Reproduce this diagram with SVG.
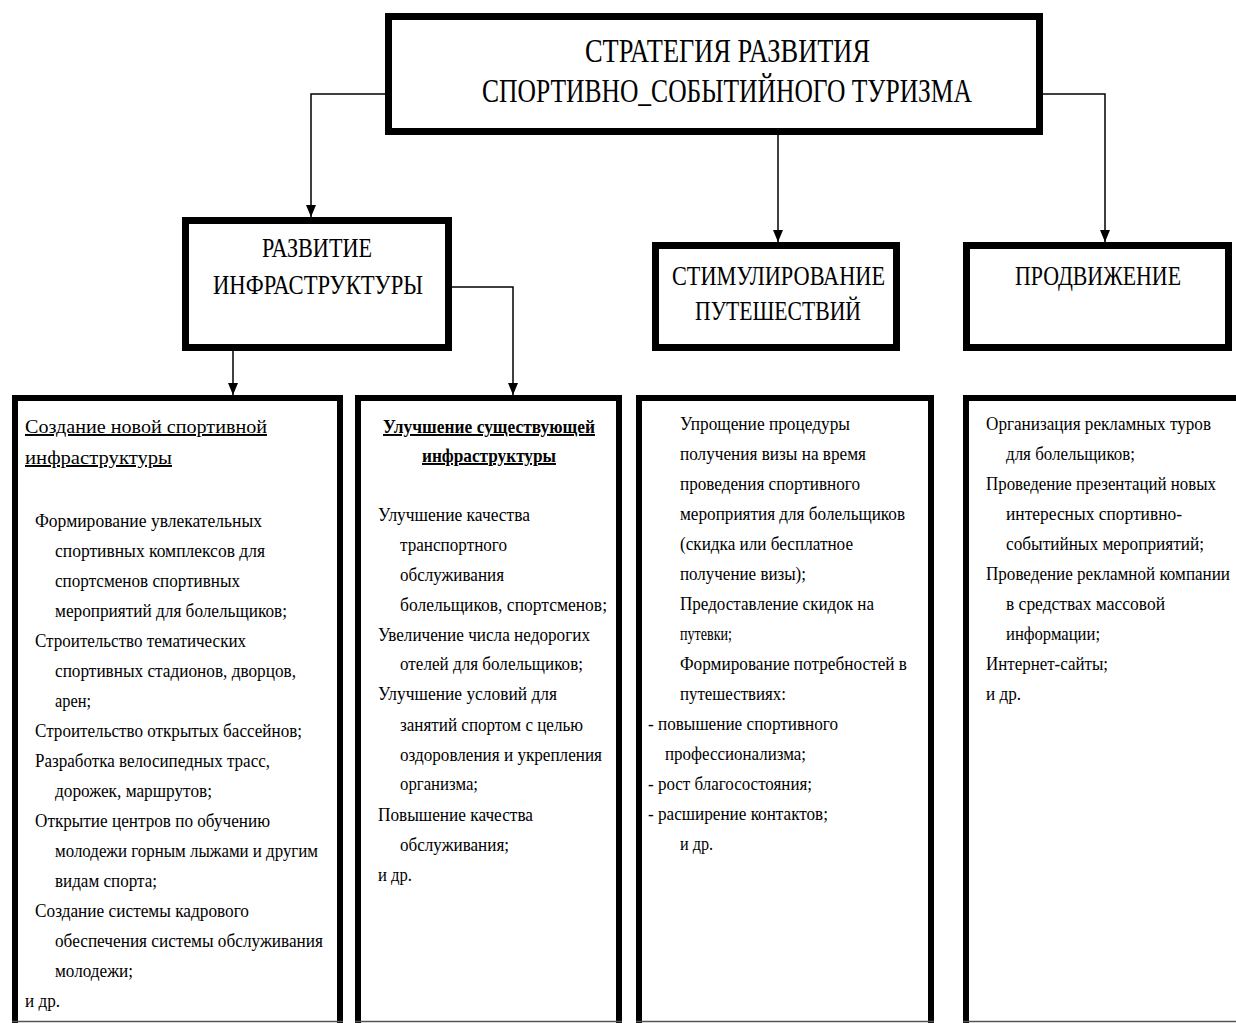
<svg xmlns="http://www.w3.org/2000/svg" width="1236" height="1023" viewBox="0 0 1236 1023">
<defs>
<marker id="arr" viewBox="0 0 12 10" markerUnits="userSpaceOnUse" markerWidth="12" markerHeight="10" refX="12" refY="5" orient="auto">
<path d="M0,0 L12,5 L0,10 z" fill="#000"/>
</marker>
<style>
.box{fill:#fff;stroke:#000;stroke-width:7}
.lbox{fill:#fff;stroke:#000;stroke-width:6}
.edge{fill:none;stroke:#000;stroke-width:1.5;marker-end:url(#arr)}
.base{stroke:#555;stroke-width:1.5}
text{font-family:"Liberation Serif","Times New Roman",serif;fill:#000}
.h1{font-size:33px}
.h2{font-size:28px}
.t{font-size:19.5px}
.u{text-decoration:underline}
.b{font-weight:bold}
</style>
</defs>
<rect width="1236" height="1023" fill="#fff"/>

<g id="connectors">
<path class="edge" d="M385,94 H311 V217"/>
<path class="edge" d="M778,135 V242"/>
<path class="edge" d="M1043,94 H1105 V242"/>
<path class="edge" d="M233,351 V395"/>
<path class="edge" d="M452,287 H513 V395"/>
</g>

<g id="strategy">
<rect class="box" x="388.5" y="16.5" width="651" height="115"/>
<text class="h1" x="585" y="62" textLength="285" lengthAdjust="spacingAndGlyphs">СТРАТЕГИЯ РАЗВИТИЯ</text>
<text class="h1" x="482" y="102" textLength="490" lengthAdjust="spacingAndGlyphs">СПОРТИВНО_СОБЫТИЙНОГО ТУРИЗМА</text>
</g>

<g id="infra">
<rect class="box" x="185.5" y="220.5" width="263" height="127"/>
<text class="h2" x="262" y="257" textLength="110" lengthAdjust="spacingAndGlyphs">РАЗВИТИЕ</text>
<text class="h2" x="213" y="294" textLength="210" lengthAdjust="spacingAndGlyphs">ИНФРАСТРУКТУРЫ</text>
</g>

<g id="stimul">
<rect class="box" x="655.5" y="245.5" width="241" height="102"/>
<text class="h2" x="672" y="285" textLength="213" lengthAdjust="spacingAndGlyphs">СТИМУЛИРОВАНИЕ</text>
<text class="h2" x="695" y="320" textLength="166" lengthAdjust="spacingAndGlyphs">ПУТЕШЕСТВИЙ</text>
</g>

<g id="promo">
<rect class="box" x="966.5" y="245.5" width="262" height="102"/>
<text class="h2" x="1015" y="285" textLength="166" lengthAdjust="spacingAndGlyphs">ПРОДВИЖЕНИЕ</text>
</g>

<g id="new-infra">
<rect class="lbox" x="15" y="398" width="325" height="640"/>
<line class="base" x1="12" y1="1021.5" x2="343" y2="1021.5"/>
<text class="t u" x="25" y="433" textLength="242" lengthAdjust="spacingAndGlyphs">Создание новой спортивной</text>
<text class="t u" x="25" y="464" textLength="147" lengthAdjust="spacingAndGlyphs">инфраструктуры</text>
<text class="t" x="35" y="527" textLength="227" lengthAdjust="spacingAndGlyphs">Формирование  увлекательных</text>
<text class="t" x="55" y="557" textLength="210" lengthAdjust="spacingAndGlyphs">спортивных комплексов для</text>
<text class="t" x="55" y="587" textLength="185" lengthAdjust="spacingAndGlyphs">спортсменов спортивных</text>
<text class="t" x="55" y="617" textLength="232" lengthAdjust="spacingAndGlyphs">мероприятий для болельщиков;</text>
<text class="t" x="35" y="647" textLength="211" lengthAdjust="spacingAndGlyphs">Строительство тематических</text>
<text class="t" x="55" y="677" textLength="241" lengthAdjust="spacingAndGlyphs">спортивных стадионов, дворцов,</text>
<text class="t" x="55" y="707" textLength="36" lengthAdjust="spacingAndGlyphs">арен;</text>
<text class="t" x="35" y="737" textLength="267" lengthAdjust="spacingAndGlyphs">Строительство открытых бассейнов;</text>
<text class="t" x="35" y="767" textLength="235" lengthAdjust="spacingAndGlyphs">Разработка велосипедных трасс,</text>
<text class="t" x="55" y="797" textLength="157" lengthAdjust="spacingAndGlyphs">дорожек, маршрутов;</text>
<text class="t" x="35" y="827" textLength="235" lengthAdjust="spacingAndGlyphs">Открытие центров по обучению</text>
<text class="t" x="55" y="857" textLength="263" lengthAdjust="spacingAndGlyphs">молодежи горным лыжами и другим</text>
<text class="t" x="55" y="887" textLength="102" lengthAdjust="spacingAndGlyphs">видам спорта;</text>
<text class="t" x="35" y="917" textLength="214" lengthAdjust="spacingAndGlyphs">Создание системы кадрового</text>
<text class="t" x="55" y="947" textLength="268" lengthAdjust="spacingAndGlyphs">обеспечения системы обслуживания</text>
<text class="t" x="55" y="977" textLength="78" lengthAdjust="spacingAndGlyphs">молодежи;</text>
<text class="t" x="25" y="1007" textLength="35" lengthAdjust="spacingAndGlyphs">и др.</text>
</g>

<g id="improve-infra">
<rect class="lbox" x="358" y="398" width="261" height="640"/>
<line class="base" x1="355" y1="1021.5" x2="622" y2="1021.5"/>
<text class="t u b" x="383" y="433" textLength="212" lengthAdjust="spacingAndGlyphs">Улучшение существующей</text>
<text class="t u b" x="422" y="462" textLength="134" lengthAdjust="spacingAndGlyphs">инфраструктуры</text>
<text class="t" x="378" y="521" textLength="152" lengthAdjust="spacingAndGlyphs">Улучшение качества</text>
<text class="t" x="400" y="551" textLength="107" lengthAdjust="spacingAndGlyphs">транспортного</text>
<text class="t" x="400" y="581" textLength="104" lengthAdjust="spacingAndGlyphs">обслуживания</text>
<text class="t" x="400" y="611" textLength="207" lengthAdjust="spacingAndGlyphs">болельщиков,  спортсменов;</text>
<text class="t" x="378" y="641" textLength="212" lengthAdjust="spacingAndGlyphs">Увеличение числа недорогих</text>
<text class="t" x="400" y="670" textLength="183" lengthAdjust="spacingAndGlyphs">отелей для болельщиков;</text>
<text class="t" x="378" y="700" textLength="179" lengthAdjust="spacingAndGlyphs">Улучшение условий для</text>
<text class="t" x="400" y="731" textLength="183" lengthAdjust="spacingAndGlyphs">занятий спортом с целью</text>
<text class="t" x="400" y="761" textLength="202" lengthAdjust="spacingAndGlyphs">оздоровления и укрепления</text>
<text class="t" x="400" y="790" textLength="78" lengthAdjust="spacingAndGlyphs">организма;</text>
<text class="t" x="378" y="821" textLength="155" lengthAdjust="spacingAndGlyphs">Повышение качества</text>
<text class="t" x="400" y="851" textLength="109" lengthAdjust="spacingAndGlyphs">обслуживания;</text>
<text class="t" x="378" y="881" textLength="34" lengthAdjust="spacingAndGlyphs">и др.</text>
</g>

<g id="travel-list">
<rect class="lbox" x="639" y="398" width="292" height="640"/>
<line class="base" x1="636" y1="1021.5" x2="934" y2="1021.5"/>
<text class="t" x="680" y="430" textLength="170" lengthAdjust="spacingAndGlyphs">Упрощение процедуры</text>
<text class="t" x="680" y="460" textLength="186" lengthAdjust="spacingAndGlyphs">получения визы на время</text>
<text class="t" x="680" y="490" textLength="180" lengthAdjust="spacingAndGlyphs">проведения спортивного</text>
<text class="t" x="680" y="520" textLength="225" lengthAdjust="spacingAndGlyphs">мероприятия для болельщиков</text>
<text class="t" x="680" y="550" textLength="173" lengthAdjust="spacingAndGlyphs">(скидка или бесплатное</text>
<text class="t" x="680" y="580" textLength="126" lengthAdjust="spacingAndGlyphs">получение визы);</text>
<text class="t" x="680" y="610" textLength="194" lengthAdjust="spacingAndGlyphs">Предоставление скидок на</text>
<text class="t" x="680" y="640" textLength="52" lengthAdjust="spacingAndGlyphs">путевки;</text>
<text class="t" x="680" y="670" textLength="227" lengthAdjust="spacingAndGlyphs">Формирование потребностей  в</text>
<text class="t" x="680" y="700" textLength="106" lengthAdjust="spacingAndGlyphs">путешествиях:</text>
<text class="t" x="648" y="730" textLength="190" lengthAdjust="spacingAndGlyphs">- повышение спортивного</text>
<text class="t" x="665" y="760" textLength="141" lengthAdjust="spacingAndGlyphs">профессионализма;</text>
<text class="t" x="648" y="790" textLength="164" lengthAdjust="spacingAndGlyphs">- рост благосостояния;</text>
<text class="t" x="648" y="820" textLength="180" lengthAdjust="spacingAndGlyphs">- расширение контактов;</text>
<text class="t" x="680" y="850" textLength="33" lengthAdjust="spacingAndGlyphs">и др.</text>
</g>

<g id="promo-list">
<rect class="lbox" x="966" y="398" width="276" height="640"/>
<line class="base" x1="963" y1="1021.5" x2="1236" y2="1021.5"/>
<text class="t" x="986" y="430" textLength="225" lengthAdjust="spacingAndGlyphs">Организация рекламных туров</text>
<text class="t" x="1006" y="460" textLength="129" lengthAdjust="spacingAndGlyphs">для болельщиков;</text>
<text class="t" x="986" y="490" textLength="230" lengthAdjust="spacingAndGlyphs">Проведение презентаций новых</text>
<text class="t" x="1006" y="520" textLength="176" lengthAdjust="spacingAndGlyphs">интересных спортивно-</text>
<text class="t" x="1006" y="550" textLength="198" lengthAdjust="spacingAndGlyphs">событийных мероприятий;</text>
<text class="t" x="986" y="580" textLength="244" lengthAdjust="spacingAndGlyphs">Проведение рекламной компании</text>
<text class="t" x="1006" y="610" textLength="159" lengthAdjust="spacingAndGlyphs">в средствах массовой</text>
<text class="t" x="1006" y="640" textLength="94" lengthAdjust="spacingAndGlyphs">информации;</text>
<text class="t" x="986" y="670" textLength="122" lengthAdjust="spacingAndGlyphs">Интернет-сайты;</text>
<text class="t" x="986" y="700" textLength="35" lengthAdjust="spacingAndGlyphs">и др.</text>
</g>
</svg>
